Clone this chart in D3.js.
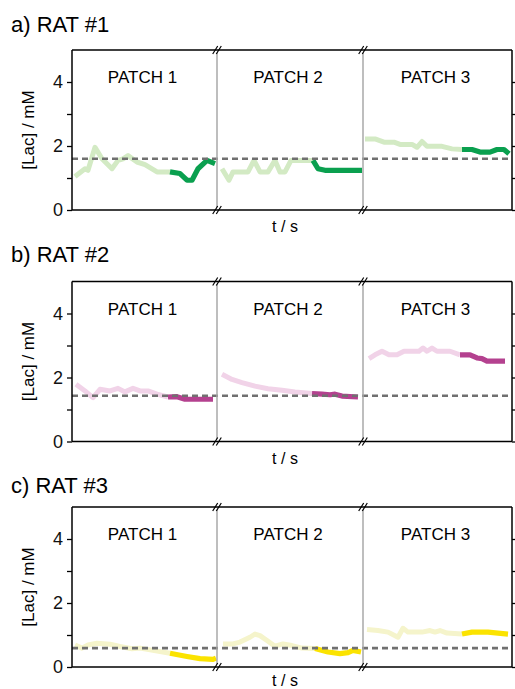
<!DOCTYPE html>
<html>
<head>
<meta charset="utf-8">
<script src="https://cdn.jsdelivr.net/npm/d3@7"></script>
<style>
  body { margin: 0; background: #fff; }
  svg { display: block; font-family: "Liberation Sans", Arial, sans-serif; }
</style>
</head>
<body>
<svg id="chart" width="515" height="689"></svg>
<script>
const RATS = ['a) RAT #1', 'b) RAT #2', 'c) RAT #3'];
const PATCHES = ['PATCH 1', 'PATCH 2', 'PATCH 3'];
const PATCH_LEN = [145, 146, 149];   // s, length of each recording patch
const Y_TICKS = [0, 1, 2, 3, 4];
const Y_LABELS = [0, 2, 4];
const BASELINE = [1.60, 1.43, 0.59]; // mM, dashed reference per rat
const SPLIT = [[98, 96, 99], [96, 95, 97], [98, 98, 99]]; // t where dark segment starts

// [t within patch, lactate mM]
const RAT1 = [
  [[3, 1.05], [13, 1.29], [16, 1.24], [23, 1.96], [30, 1.6], [40, 1.29], [46, 1.55], [51, 1.6], [56, 1.7],
   [65, 1.5], [73, 1.42], [85, 1.19], [98, 1.19], [108, 1.14], [115, 0.93], [120, 0.93], [126, 1.29], [135, 1.55], [143, 1.45]],
  [[5, 1.29], [12, 0.93], [16, 1.19], [31, 1.19], [37, 1.55], [43, 1.19], [51, 1.19], [58, 1.55], [63, 1.19],
   [68, 1.19], [74, 1.55], [96, 1.55], [101, 1.29], [108, 1.24], [145, 1.24]],
  [[2, 2.22], [12, 2.22], [21, 2.12], [31, 2.12], [37, 2.05], [49, 2.05], [54, 1.96], [59, 2.14], [64, 1.99],
   [79, 1.99], [89, 1.91], [99, 1.89], [109, 1.89], [117, 1.81], [127, 1.81], [134, 1.89], [141, 1.89], [146, 1.76]]
];
const RAT2 = [
  [[4, 1.79], [13, 1.58], [21, 1.37], [28, 1.63], [38, 1.58], [46, 1.66], [53, 1.55], [61, 1.66], [68, 1.58],
   [76, 1.58], [85, 1.48], [96, 1.39], [105, 1.40], [113, 1.32], [141, 1.32]],
  [[5, 2.10], [15, 1.94], [25, 1.84], [38, 1.73], [51, 1.65], [65, 1.60], [78, 1.55], [95, 1.50], [105, 1.48],
   [113, 1.46], [118, 1.48], [125, 1.42], [141, 1.39]],
  [[6, 2.59], [12, 2.71], [19, 2.82], [26, 2.71], [34, 2.71], [41, 2.82], [56, 2.82], [60, 2.92], [64, 2.82],
   [69, 2.92], [74, 2.82], [87, 2.82], [97, 2.71], [107, 2.71], [114, 2.61], [119, 2.59], [124, 2.51], [142, 2.51]]
];
const RAT3 = [
  [[3, 0.69], [10, 0.59], [16, 0.69], [25, 0.74], [38, 0.71], [48, 0.64], [60, 0.57], [68, 0.59], [81, 0.52],
   [98, 0.43], [115, 0.33], [128, 0.26], [141, 0.24], [144, 0.28]],
  [[6, 0.72], [16, 0.72], [23, 0.78], [33, 0.93], [38, 1.03], [43, 0.98], [50, 0.83], [58, 0.65], [66, 0.72],
   [75, 0.67], [85, 0.59], [98, 0.58], [111, 0.47], [123, 0.42], [131, 0.45], [136, 0.52], [144, 0.47]],
  [[4, 1.17], [15, 1.14], [25, 1.09], [35, 0.93], [40, 1.21], [45, 1.09], [59, 1.09], [67, 1.14], [72, 1.09],
   [77, 1.14], [84, 1.06], [99, 1.03], [109, 1.09], [125, 1.09], [145, 1.03]]
];
const DATA = [RAT1, RAT2, RAT3];

const LIGHT = ['#d3eac4', '#f1d3e8', '#f5f4cb'];
const DARK = ['#0aa04f', '#b4418f', '#fbe300'];

const PANEL_TOP = [50, 281.5, 507];
const TITLE_Y = [32, 262, 493];
const PANEL_H = 160;
const LEFT = 72, RIGHT = 512;

const svg = d3.select('#chart');
const offsets = PATCH_LEN.map((_, i) => d3.sum(PATCH_LEN.slice(0, i)));
const x = d3.scaleLinear().domain([0, d3.sum(PATCH_LEN)]).range([LEFT, RIGHT]);

RATS.forEach((rat, r) => {
  const top = PANEL_TOP[r];
  const y = d3.scaleLinear().domain([0, 5]).range([top + PANEL_H, top]);
  const g = svg.append('g');

  g.append('text').attr('x', 11).attr('y', TITLE_Y[r])
    .attr('font-size', 22).text(rat);

  // patch traces
  DATA[r].forEach((pts, p) => {
    const line = d3.line().x(d => x(offsets[p] + d[0])).y(d => y(d[1]));
    const s = SPLIT[r][p];
    g.append('path').attr('d', line(pts.filter(d => d[0] <= s)))
      .attr('fill', 'none').attr('stroke', LIGHT[r]).attr('stroke-width', 5)
      .attr('stroke-linejoin', 'round');
    g.append('path').attr('d', line(pts.filter(d => d[0] >= s)))
      .attr('fill', 'none').attr('stroke', DARK[r]).attr('stroke-width', 5.2)
      .attr('stroke-linejoin', 'round');

    g.append('text').attr('x', x(offsets[p] + PATCH_LEN[p] / 2) - 2).attr('y', top + 33)
      .attr('text-anchor', 'middle').attr('font-size', 17).text(PATCHES[p]);
  });

  // baseline
  g.append('line').attr('x1', LEFT).attr('x2', RIGHT)
    .attr('y1', y(BASELINE[r])).attr('y2', y(BASELINE[r]))
    .attr('stroke', '#707070').attr('stroke-width', 2.6).attr('stroke-dasharray', '6,4');

  // patch separators with break marks
  offsets.slice(1).forEach(o => {
    const sx = x(o);
    g.append('line').attr('x1', sx).attr('x2', sx).attr('y1', top).attr('y2', top + PANEL_H)
      .attr('stroke', '#a8a8a8').attr('stroke-width', 1.5);
    [top, top + PANEL_H].forEach(by => {
      g.append('polygon')
        .attr('points', `${sx - 4},${by + 4} ${sx - 1},${by + 4} ${sx + 4},${by - 4} ${sx + 1},${by - 4}`)
        .attr('fill', '#fff');
      [-1.8, 1.8].forEach(dx => {
        g.append('line').attr('x1', sx + dx - 2.5).attr('y1', by + 4)
          .attr('x2', sx + dx + 2.5).attr('y2', by - 4)
          .attr('stroke', '#000').attr('stroke-width', 1.2);
      });
    });
  });

  // frame
  g.append('line').attr('x1', LEFT).attr('x2', RIGHT).attr('y1', top).attr('y2', top)
    .attr('stroke', '#000').attr('stroke-width', 1.5);
  g.append('line').attr('x1', LEFT).attr('x2', RIGHT).attr('y1', top + PANEL_H).attr('y2', top + PANEL_H)
    .attr('stroke', '#000').attr('stroke-width', 1.5);

  const yl = g.append('g').attr('transform', `translate(${LEFT},0)`)
    .call(d3.axisLeft(y).tickValues(Y_TICKS).tickSize(5).tickPadding(4)
      .tickFormat(d => Y_LABELS.includes(d) ? d : ''));
  const yr = g.append('g').attr('transform', `translate(${RIGHT},0)`)
    .call(d3.axisRight(y).tickValues(Y_TICKS).tickSize(5).tickFormat(''));
  [yl, yr].forEach(a => {
    a.select('.domain').attr('stroke-width', 1.5).attr('d', `M0,${top}V${top + PANEL_H}`);
    a.selectAll('.tick line').attr('stroke-width', 1.3);
    a.selectAll('text').attr('font-size', 18).attr('font-family', 'Liberation Sans, Arial, sans-serif')
      .attr('fill', '#111');
  });

  g.append('text')
    .attr('transform', `translate(34,${top + PANEL_H / 2}) rotate(-90)`)
    .attr('text-anchor', 'middle').attr('font-size', 17).text('[Lac] / mM');

  g.append('text').attr('x', 285).attr('y', Math.min(top + PANEL_H + 22, 686))
    .attr('text-anchor', 'middle').attr('font-size', 16).text('t / s');
});
</script>
</body>
</html>
